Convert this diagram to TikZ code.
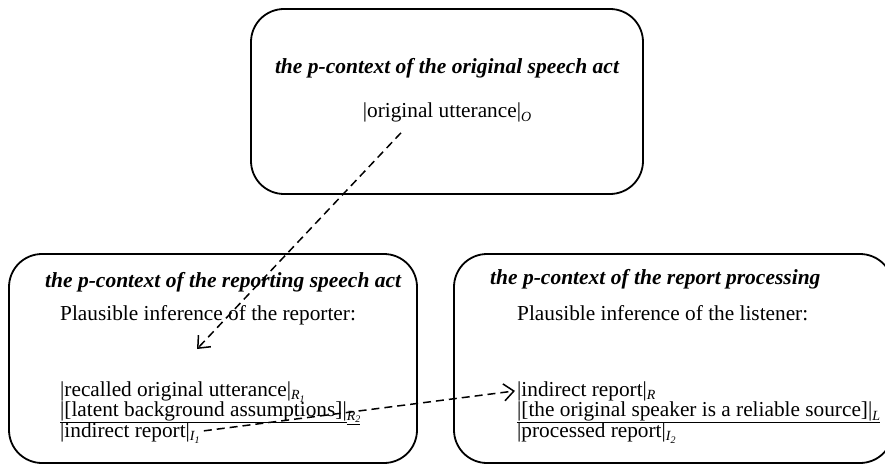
\documentclass[tikz,border=0pt]{standalone}
\usepackage{fontspec}
\setmainfont{Liberation Serif}
\usetikzlibrary{arrows.meta}

% italic subscripts used for the context labels
\newcommand\lab[1]{\raisebox{-0.4ex}{\fontsize{14}{14}\selectfont\itshape #1}}
\newcommand\labn[2]{\raisebox{-0.4ex}{\fontsize{14}{14}\selectfont\itshape #1\raisebox{-0.4ex}{\fontsize{10}{10}\selectfont #2}}}

\begin{document}
\begin{tikzpicture}[x=1pt,y=-1pt,
  ctxbox/.style={line width=1.8pt,rounded corners=33pt},
  ctxtitle/.style={font=\fontsize{21.5}{22}\selectfont\bfseries\itshape,inner sep=0pt},
  ctxtext/.style={font=\fontsize{21.3}{22}\selectfont,inner sep=0pt,anchor=base west},
  flow/.style={line width=1.5pt,dash pattern=on 8pt off 5pt,-{Straight Barb[length=10pt,width=17pt,line width=1.5pt]}}
]
\useasboundingbox (0,0) rectangle (885,465);

% the three p-contexts
\draw[ctxbox] (251,9) rectangle (643,194);
\draw[ctxbox] (9,254) rectangle (417,463);
\draw[ctxbox] (454,254) rectangle (893,463);

% original speech act
\node[ctxtitle,anchor=base] (t0) at (447,74) {the p-context of the original speech act};
\node[ctxtext,anchor=base] (ou) at (447,118) {|original utterance|\lab{O}};

% reporting speech act
\node[ctxtitle,anchor=base west] (t1) at (45,287) {the p-context of the reporting speech act};
\node[ctxtext] (p1) at (60,320) {Plausible inference of the reporter:};
\node[ctxtext] (ro) at (60,396) {|recalled original utterance|\labn{R}{1}};
\node[ctxtext] (lb) at (60,416.5) {\underline{|[latent background assumptions]|}\underline{\labn{R}{2}}};
\node[ctxtext] (ir1) at (60,437) {|indirect report|\labn{I}{1}};

% report processing
\node[ctxtitle,anchor=base west] (t2) at (490,284) {the p-context of the report processing};
\node[ctxtext] (p2) at (517,320) {Plausible inference of the listener:};
\node[ctxtext] (ir2) at (517,396) {|indirect report|\lab{R}};
\node[ctxtext] (rs) at (517,416.5) {\underline{|[the original speaker is a reliable source]|}\underline{\lab{L}}};
\node[ctxtext] (pr) at (517,437) {|processed report|\labn{I}{2}};

% connectors
\coordinate (a0) at ([xshift=-46pt,yshift=-10pt]ou.south);
\coordinate (a1) at ([xshift=137pt,yshift=32pt]ro.north west);
\draw[flow] (a0) -- (a1);
\coordinate (b0) at ([xshift=4pt,yshift=2pt]ir1.east);
\draw[flow] (b0) -- ([xshift=-2pt]ir2.west);
\end{tikzpicture}
\end{document}
